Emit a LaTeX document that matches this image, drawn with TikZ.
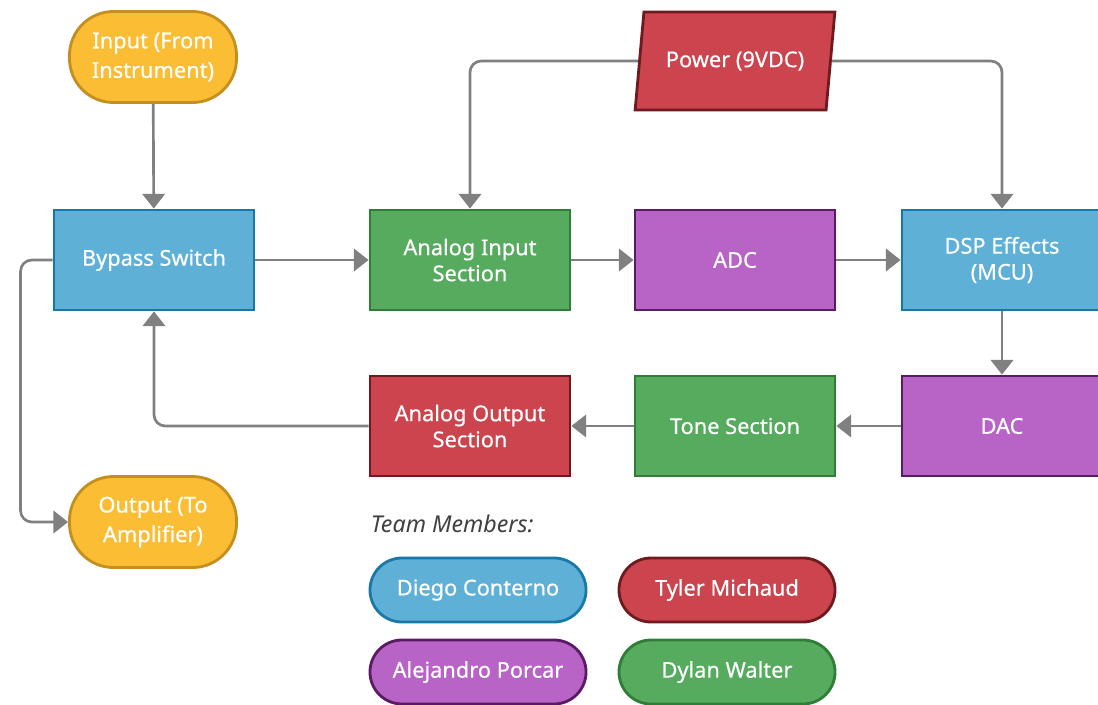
\documentclass[tikz,border=0pt]{standalone}
\usepackage{fontspec}
\setmainfont{Noto Sans}
\newfontfamily\boxfont{Noto Sans}[FakeBold=0.5]
\usetikzlibrary{arrows.meta,shapes.geometric}

\definecolor{yel}{HTML}{FBBD33}
\definecolor{yelb}{HTML}{C48F1E}
\definecolor{blu}{HTML}{5EB0D6}
\definecolor{blub}{HTML}{1A78A8}
\definecolor{grn}{HTML}{56AB5F}
\definecolor{grnb}{HTML}{2F7D36}
\definecolor{pur}{HTML}{B764C6}
\definecolor{purb}{HTML}{5A1A66}
\definecolor{rd}{HTML}{CB444E}
\definecolor{rdb}{HTML}{6E1A1E}
\definecolor{wire}{HTML}{808080}

\begin{document}
\begin{tikzpicture}[x=0.025cm,y=-0.025cm,
    >={Triangle[length=10.5pt,width=16pt]},
    box/.style={draw,line width=2pt,minimum width=5cm,minimum height=2.5cm,
      text=white,font=\boxfont\fontsize{15.5}{18.5}\selectfont,align=center},
    pill/.style={box,rounded corners=1.1cm,minimum width=4.175cm,minimum height=2.275cm,
      font=\boxfont\fontsize{15.5}{21}\selectfont},
    member/.style={box,rounded corners=0.8cm,minimum width=5.4cm,minimum height=1.6cm},
    wire/.style={draw=wire,line width=1.9pt,rounded corners=8pt,->}]
        \useasboundingbox (0,0) rectangle (1098,704);

        \node[pill,fill=yel,draw=yelb] (input) at (153,57) {Input (From\\Instrument)};
        \node[box,fill=blu,draw=blub] (bypass) at (154,260) {Bypass Switch};
        \node[box,fill=grn,draw=grnb] (ain) at (470,260) {Analog Input\\Section};
        \node[box,fill=pur,draw=purb] (adc) at (735,260) {ADC};
        \node[box,fill=blu,draw=blub] (dsp) at (1002,260) {DSP Effects\\(MCU)};
        \node[box,shape=trapezium,trapezium left angle=76,trapezium right angle=104,
          trapezium stretches=true,minimum height=2.45cm,fill=rd,draw=rdb] (power) at (735,61) {Power (9VDC)};

        \node[box,fill=pur,draw=purb] (dac) at (1002,426) {DAC};
        \node[box,fill=grn,draw=grnb] (tone) at (735,426) {Tone Section};
        \node[box,fill=rd,draw=rdb] (aout) at (470,426) {Analog Output\\Section};
        \node[pill,fill=yel,draw=yelb] (output) at (153,522) {Output (To\\Amplifier)};

        \node[anchor=west,text=black!75,font=\fontsize{16.5}{20}\selectfont\itshape] (team) at (366,524) {Team Members:};
        \node[member,fill=blu,draw=blub] (diego) at (478,590) {Diego Conterno};
        \node[member,fill=rd,draw=rdb] (tyler) at (727,590) {Tyler Michaud};
        \node[member,fill=pur,draw=purb] (alej) at (478,672) {Alejandro Porcar};
        \node[member,fill=grn,draw=grnb] (dylan) at (727,672) {Dylan Walter};

        % signal chain
        \draw[wire] (input) -- (bypass);
        \draw[wire] (bypass) -- (ain);
        \draw[wire] (ain) -- (adc);
        \draw[wire] (adc) -- (dsp);
        \draw[wire] (power.west) -| (ain.north);
        \draw[wire] (power.east) -| (dsp.north);
        \draw[wire] (dsp) -- (dac);
        \draw[wire] (dac) -- (tone);
        \draw[wire] (tone) -- (aout);
        \draw[wire] (aout.west) -| (bypass.south);
        \draw[wire] (bypass.west) -- ++(-32,0) |- (output.west);
\end{tikzpicture}
\end{document}
